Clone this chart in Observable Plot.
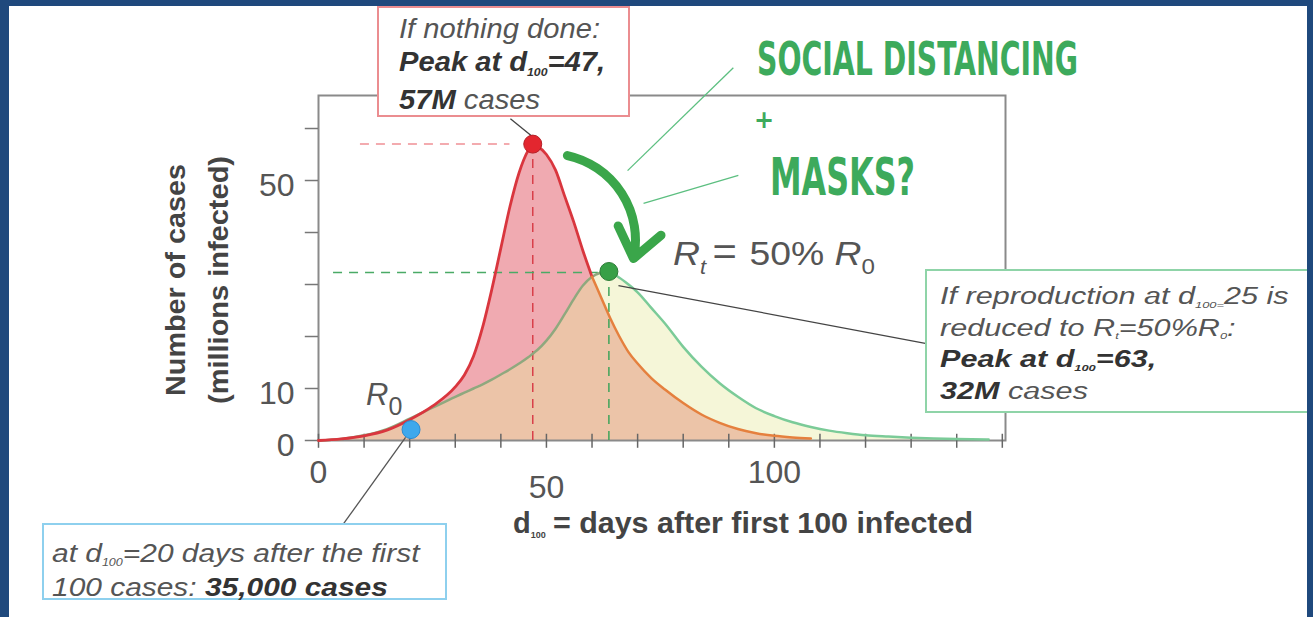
<!DOCTYPE html>
<html>
<head>
<meta charset="utf-8">
<script src="https://cdn.jsdelivr.net/npm/d3@7"></script>
<script src="https://cdn.jsdelivr.net/npm/@observablehq/plot@0.6"></script>
<style>
  html, body { margin: 0; padding: 0; }
  body { background: #1f497d; width: 1313px; height: 617px; overflow: hidden; }
  #panel { position: absolute; left: 9px; top: 6px; width: 1298px; height: 611px; background: #fff; overflow: hidden; }
  #inner { position: absolute; left: -9px; top: -6px; width: 1313px; height: 617px; }
  #chart, #over { position: absolute; left: 0; top: 0; }
  .box { position: absolute; background: #fff; font-family: "Liberation Sans", Arial, sans-serif; color: #555;
         font-style: italic; box-sizing: border-box; white-space: nowrap; }
  .box .t { transform-origin: 0 0; }
  .b { font-weight: bold; color: #333; }
  .sub { font-size: 0.42em; position: relative; top: 0.4em; }
</style>
</head>
<body>
<div id="panel"><div id="inner">
  <div id="chart"></div>
  <svg id="over" width="1313" height="617" xmlns="http://www.w3.org/2000/svg" font-family="Liberation Sans, Arial, sans-serif">
    <!-- y axis title -->
    <text transform="translate(185,280) rotate(-90)" text-anchor="middle" font-size="27" font-weight="bold" fill="#444" textLength="232" lengthAdjust="spacingAndGlyphs">Number of cases</text>
    <text transform="translate(228,280) rotate(-90)" text-anchor="middle" font-size="27" font-weight="bold" fill="#444" textLength="248" lengthAdjust="spacingAndGlyphs">(millions infected)</text>
    <!-- x axis title -->
    <text x="513" y="533" font-size="29" font-weight="bold" fill="#444">d<tspan font-size="9" dy="5">100</tspan></text>
    <text x="553" y="533" font-size="29" font-weight="bold" fill="#444" textLength="420" lengthAdjust="spacingAndGlyphs">= days after first 100 infected</text>
    <!-- green intervention texts -->
    <text x="757" y="75" font-family="DejaVu Sans Condensed, DejaVu Sans" font-weight="bold" font-size="46" fill="#3daa5c" textLength="321" lengthAdjust="spacingAndGlyphs">SOCIAL DISTANCING</text>
    <text x="764" y="128" text-anchor="middle" font-family="DejaVu Sans" font-weight="bold" font-size="24" fill="#3daa5c">+</text>
    <text x="770" y="195" font-family="DejaVu Sans Condensed, DejaVu Sans" font-weight="bold" font-size="52" fill="#3daa5c" textLength="145" lengthAdjust="spacingAndGlyphs">MASKS?</text>
    <!-- Rt label -->
    <text x="673" y="265" font-size="34" fill="#555" textLength="202" lengthAdjust="spacingAndGlyphs"><tspan font-style="italic">R</tspan><tspan font-style="italic" font-size="20" dy="9">t</tspan><tspan dy="-9" dx="6" font-size="38">=</tspan><tspan dx="2"> 50% </tspan><tspan font-style="italic">R</tspan><tspan font-size="22" dy="9">0</tspan></text>
    <!-- R0 label -->
    <text x="366" y="405" font-size="31" fill="#555"><tspan font-style="italic">R</tspan><tspan font-size="25" dy="10">0</tspan></text>
  </svg>
  <div class="box" style="left:377px;top:6px;width:253px;height:111px;border:2px solid #eb8d90;padding:5px 0 0 20px;font-size:27px;line-height:33px;">
    <div class="t" style="transform:scaleX(1.08)">
    If nothing done:<br>
    <span class="b">Peak at d<span class="sub">100</span>=47,</span><br>
    <span class="b">57M</span> cases
    </div>
  </div>
  <div class="box" style="left:925px;top:269px;width:400px;height:144px;border:2px solid #8fd4a8;padding:12px 0 0 13px;font-size:23px;line-height:27.5px;">
    <div class="t" style="transform:scaleX(1.33)">
    If reproduction at d<span class="sub">100=</span>25 is<br>
    reduced to R<span class="sub">t</span>=50%R<span class="sub">0</span>:<br>
    <span class="b">Peak at d<span class="sub">100</span>=63,</span><br>
    <span class="b">32M</span> cases
    </div>
  </div>
  <div class="box" style="left:42px;top:523px;width:405px;height:77px;border:2px solid #8ed0ee;padding:14px 0 0 8px;font-size:26px;line-height:29px;">
    <div class="t" style="transform:scaleX(1.15)">
    at d<span class="sub">100</span>=20 days after the first<br>
    100 cases: <span class="b">35,000 cases</span>
    </div>
  </div>
</div></div>
<script>
// ---- data ----
const days  = [0,5,10,15,20,25,30,32,34,36,38,40,42,44,46,47,48,50,52,54,56,58,60,62,64,66,68,70,73,76,80,84,88,92,96,100,104,108,112,116,120,125,130,135,140,147];
const noAction = [0,0.3,0.9,2.0,4.0,6.6,10.3,12.6,16.2,21.8,29,37,45,51.5,55.8,57,56.6,55,52,47,42,36.5,31.5,27.5,23.5,20,17,14.8,12,9.8,7.2,5,3.4,2.2,1.4,0.9,0.6,0.4,null,null,null,null,null,null,null,null];
const reduced  = [0,0.3,1.0,2.2,4.2,6.3,8.4,9.2,10.0,10.8,11.7,12.7,13.7,14.8,16.0,16.7,17.4,19.2,21.5,24.3,27.2,29.8,31.5,32.3,32.2,31.3,30,28.5,25.5,22.5,18,14.2,11,8.4,6.2,4.7,3.5,2.6,1.9,1.4,1.0,0.75,0.55,0.4,0.3,0.2];
const peaks = [
  {name: "nothing done", d: 47, v: 57, fill: "#e3262f", stroke: "#b51f27"},
  {name: "reduced", d: 63.7, v: 32.5, fill: "#37a046", stroke: "#2a7b35"},
  {name: "d20", d: 20.3, v: 2.1, fill: "#3ea8ec", stroke: "#2b8bd0"}
];
const xTicks = [0,10,20,30,40,50,60,70,80,90,100,110,120,130,140,150];
const yTicks = [0,10,20,30,40,50,60];
const yLabels = [0,10,50];
const xLabels = [0,50,100];
// annotation anchors (data units)
const leaders = [
  {x1: 42.1, y1: 61.9, x2: 47.1, y2: 58.3, c: "#444"},
  {x1: 5.5, y1: -16.0, x2: 19.1, y2: 0.6, c: "#555"},
  {x1: 65.8, y1: 29.8, x2: 133.1, y2: 18.7, c: "#444"},
  {x1: 91.0, y1: 71.7, x2: 67.8, y2: 51.9, c: "#5cbf80"},
  {x1: 92.1, y1: 51.0, x2: 71.3, y2: 45.6, c: "#5cbf80"}
];
const bigArrow = [{x1: 54.6, y1: 54.8, x2: 69.1, y2: 35.0}];

const rows = days.map((d, i) => ({d, red: noAction[i], green: reduced[i]}));
const redRows = rows.filter(r => r.red != null);
const overlap = redRows.map(r => ({d: r.d, v: Math.min(r.red, r.green)}));

const curve = "monotone-x";
const chart = Plot.plot({
  width: 1313, height: 617,
  marginLeft: 318, marginRight: 308, marginTop: 95, marginBottom: 177,
  x: {domain: [0, 150.7], axis: null},
  y: {domain: [0, 66.35], axis: null},
  style: {background: "transparent", fontFamily: "Liberation Sans, Arial, sans-serif"},
  marks: [
    Plot.areaY(redRows, {x: "d", y: "red", fill: "#f0aab1", curve}),
    Plot.areaY(rows, {x: "d", y: "green", fill: "#f5f6d8", curve}),
    Plot.areaY(overlap, {x: "d", y: "v", fill: "#ecc4a8", curve}),
    Plot.frame({stroke: "#8a8a8a", strokeWidth: 2}),
    Plot.ruleX(xTicks, {y1: -1.5, y2: 1.2, stroke: "#666", strokeWidth: 1.5}),
    Plot.ruleY(yTicks, {x1: -2.9, x2: 0, stroke: "#777", strokeWidth: 1.5}),
    Plot.text(yLabels, {x: 0, y: d => d, text: d => String(d), dx: -24, dy: 5, textAnchor: "end", fontSize: 32, fill: "#555"}),
    Plot.text(xLabels.filter(d => d !== 50), {x: d => d, y: 0, text: d => String(d), dy: 32, fontSize: 32, fill: "#555"}),
    Plot.text(xLabels.filter(d => d === 50), {x: d => d, y: 0, text: d => String(d), dy: 47, fontSize: 32, fill: "#555"}),
    // dashed guide lines to the peaks
    Plot.ruleY([peaks[0]], {y: "v", x1: 9.2, x2: 42, stroke: "#f09095", strokeWidth: 1.5, strokeDasharray: "9,7"}),
    Plot.ruleX([peaks[0]], {x: "d", y1: 0, y2: "v", stroke: "#d8404a", strokeWidth: 1.5, strokeDasharray: "9,7"}),
    Plot.ruleY([peaks[1]], {y: d => d.v - 0.2, x1: 3.3, x2: 61.4, stroke: "#4aaa66", strokeWidth: 1.5, strokeDasharray: "9,7"}),
    Plot.ruleX([peaks[1]], {x: "d", y1: 0, y2: "v", stroke: "#3fa45a", strokeWidth: 1.5, strokeDasharray: "9,7"}),
    // curves
    Plot.line(rows.filter(r => r.d <= 62), {x: "d", y: "green", stroke: "#8fa87e", strokeWidth: 2.5, curve}),
    Plot.line(rows.filter(r => r.d >= 62), {x: "d", y: "green", stroke: "#7bcb98", strokeWidth: 2.5, curve}),
    Plot.line(redRows.filter(r => r.d <= 60), {x: "d", y: "red", stroke: "#d9363e", strokeWidth: 2.8, curve}),
    Plot.line(redRows.filter(r => r.d >= 60), {x: "d", y: "red", stroke: "#e5803e", strokeWidth: 2.5, curve}),
    // leader lines and the arrow
    Plot.link(leaders, {x1: "x1", y1: "y1", x2: "x2", y2: "y2", stroke: "c", strokeWidth: 1.3}),
    Plot.arrow(bigArrow, {x1: "x1", y1: "y1", x2: "x2", y2: "y2", bend: 45, stroke: "#3aa64a", strokeWidth: 9, headLength: 6, headAngle: 75, strokeLinecap: "round"}),
    // points
    Plot.dot(peaks, {x: "d", y: "v", r: 9, fill: "fill", stroke: "stroke", strokeWidth: 1})
  ]
});
document.getElementById("chart").appendChild(chart);
</script>
</body>
</html>
